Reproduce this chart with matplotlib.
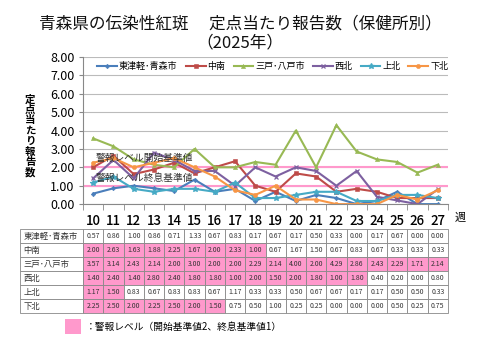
import matplotlib
matplotlib.use("Agg")
import matplotlib.pyplot as plt
from matplotlib.patches import Rectangle

plt.rcParams['font.family'] = ['Noto Sans CJK JP', 'DejaVu Sans']

# 週
weeks = [10, 11, 12, 13, 14, 15, 16, 17, 18, 19, 20, 21, 22, 23, 24, 25, 26, 27]

# 保健所別 定点当たり報告数
names = ["東津軽･青森市", "中南", "三戸･八戸市", "西北", "上北", "下北"]
aomori = [0.57, 0.86, 1.00, 0.86, 0.71, 1.33, 0.67, 0.83, 0.17, 0.67, 0.17, 0.50, 0.33, 0.00, 0.17, 0.67, 0.00, 0.00]
chunan = [2.00, 2.63, 1.63, 1.88, 2.25, 1.67, 2.00, 2.33, 1.00, 0.67, 1.67, 1.50, 0.67, 0.83, 0.67, 0.33, 0.33, 0.33]
hachinohe = [3.57, 3.14, 2.43, 2.14, 2.00, 3.00, 2.00, 2.00, 2.29, 2.14, 4.00, 2.00, 4.29, 2.86, 2.43, 2.29, 1.71, 2.14]
seihoku = [1.40, 2.40, 1.40, 2.80, 2.40, 1.80, 1.80, 1.00, 2.00, 1.50, 2.00, 1.80, 1.00, 1.80, 0.40, 0.20, 0.00, 0.80]
kamikita = [1.17, 1.50, 0.83, 0.67, 0.83, 0.83, 0.67, 1.17, 0.33, 0.33, 0.50, 0.67, 0.67, 0.17, 0.17, 0.50, 0.50, 0.33]
shimokita = [2.25, 2.50, 2.00, 2.25, 2.50, 2.00, 1.50, 0.75, 0.50, 1.00, 0.25, 0.25, 0.00, 0.00, 0.00, 0.50, 0.25, 0.75]

# 警報レベル中の週 (表のピンク色のセル)
alert_weeks = [
    [],
    list(range(10, 19)),
    list(range(10, 28)),
    list(range(10, 24)),
    [10, 11],
    list(range(10, 17)),
]

series = [aomori, chunan, hachinohe, seihoku, kamikita, shimokita]
colors = ["#4A7EBB", "#BE4B48", "#98B954", "#7D60A0", "#46AAC5", "#F79646"]
markers = ["D", "s", "^", "x", "*", "o"]
msizes = [2.3, 2.8, 3, 3.5, 4, 3]
pink = "#FF99CC"

fig = plt.figure(figsize=(4.8, 3.6), dpi=100)

# タイトル
fig.text(0.5, 0.935, "青森県の伝染性紅斑　 定点当たり報告数（保健所別）", ha="center", va="center",
         fontsize=12, color="#111111")
fig.text(0.5, 0.882, "（2025年）", ha="center", va="center", fontsize=12, color="#111111")

# グラフ
ax = fig.add_axes([0.173, 0.433, 0.760, 0.409])
x = list(range(len(weeks)))
for vals, name, c, m, ms in zip(series, names, colors, markers, msizes):
    ax.plot(x, vals, color=c, marker=m, markersize=ms, linewidth=1.5, label=name,
            markeredgewidth=0.9 if m in ("x", "*") else 0.4)

ax.axhline(2, color=pink, linewidth=1.5, zorder=1)
ax.axhline(1, color=pink, linewidth=1.5, zorder=1)
ax.text(0.15, 2.5, "警報レベル開始基準値", fontsize=7, color="#333333", va="center")
ax.text(0.15, 1.4, "警報レベル終息基準値", fontsize=7, color="#333333", va="center")

ax.set_xlim(-0.5, len(weeks) - 0.5)
ax.set_ylim(0, 8)
ax.set_yticks(range(0, 9))
ax.set_yticklabels(["%.2f" % v for v in range(0, 9)], fontsize=9)
ax.yaxis.grid(True, color="#BBBBBB", linewidth=0.8)
ax.set_axisbelow(True)
ax.set_xticks(x)
ax.set_xticklabels([str(w) for w in weeks], fontsize=9.5, fontweight="medium")
ax.set_xticks([i - 0.5 for i in range(len(weeks) + 1)], minor=True)
ax.tick_params(axis="x", which="major", length=0, pad=7)
ax.tick_params(axis="x", which="minor", length=4, color="#888888")
ax.tick_params(axis="y", length=3, color="#888888", pad=3)
for side in ["top", "right"]:
    ax.spines[side].set_visible(False)
ax.spines["left"].set_color("#888888")
ax.spines["bottom"].set_color("#888888")
ax.text(len(weeks) - 0.15, -0.75, "週", fontsize=8, va="center", ha="left")

ax.legend(ncol=6, loc="upper center", bbox_to_anchor=(0.52, 1.0), frameon=False, fontsize=6.5,
          handlelength=2.2, handletextpad=0.2, columnspacing=0.9, borderaxespad=0.2)

# 縦書きの軸ラベル
fig.text(0.063, 0.622, "\n".join("定点当たり報告数"), ha="center", va="center", fontsize=7.5,
         linespacing=1.05, fontweight="bold")

# 表
tax = fig.add_axes([20 / 480, 47 / 360, 428 / 480, 84 / 360])
tax.axis("off")
cell_text = []
cell_colors = []
for name, vals, aw in zip(names, series, alert_weeks):
    cell_text.append([name] + ["%.2f" % v for v in vals])
    cell_colors.append(["white"] + [pink if w in aw else "white" for w in weeks])
label_w = 63 / 428
col_w = (1 - label_w) / len(weeks)
tbl = tax.table(cellText=cell_text, cellColours=cell_colors, bbox=[0, 0, 1, 1],
                colWidths=[label_w] + [col_w] * len(weeks), cellLoc="center")
tbl.auto_set_font_size(False)
tbl.set_fontsize(5)
for (r, c), cell in tbl.get_celld().items():
    cell.set_edgecolor("#888888")
    cell.set_linewidth(0.6)
    cell.get_text().set_color("#333333")
    if c == 0:
        cell.set_text_props(ha="left", fontsize=6)
        cell.PAD = 0.05

# 凡例 (警報レベル)
fig.patches.append(Rectangle((65 / 480, 1 - 334 / 360), 16 / 480, 15 / 360,
                             transform=fig.transFigure, facecolor=pink, edgecolor="none"))
fig.text(86 / 480, 1 - 327 / 360, "：警報レベル（開始基準値2、終息基準値1）", fontsize=7, va="center")

fig.savefig("out.png", dpi=100)
